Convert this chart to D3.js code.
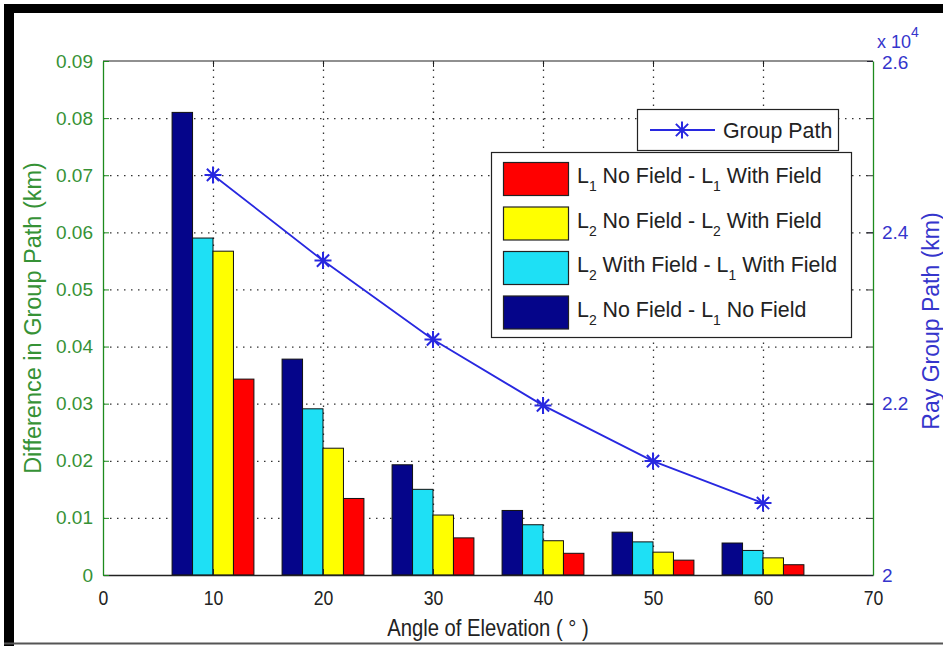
<!DOCTYPE html>
<html>
<head>
<meta charset="utf-8">
<script src="https://cdn.jsdelivr.net/npm/d3@7"></script>
<style>
  body { margin: 0; background: #fff; }
  svg text { font-family: "Liberation Sans", Arial, sans-serif; }
</style>
</head>
<body>
<svg id="chart" width="943" height="646"></svg>
<script>
// Elevation angles (degrees) at which each group of bars is drawn
const angles = [10, 20, 30, 40, 50, 60];

// Differences in group path (km), one array per comparison
const l2NoMinusL1No     = [0.0810, 0.0378, 0.0193, 0.0113, 0.0075, 0.0056];
const l2WithMinusL1With = [0.0590, 0.0291, 0.0150, 0.0088, 0.0058, 0.0043];
const l2NoMinusL2With   = [0.0567, 0.0222, 0.0105, 0.0060, 0.0040, 0.0030];
const l1NoMinusL1With   = [0.0343, 0.0134, 0.0065, 0.0038, 0.0026, 0.0018];

// Ray group path (km), right-hand axis
const groupPath = [24670, 23670, 22750, 21980, 21330, 20840];

// Tick values
const xTicks = [0, 10, 20, 30, 40, 50, 60, 70];
const leftTicks = [0, 0.01, 0.02, 0.03, 0.04, 0.05, 0.06, 0.07, 0.08, 0.09];
const rightTicks = [20000, 22000, 24000, 26000];

// Legend labels: [text, subscript] pieces
const seriesLabels = {
  l1NoMinusL1With:   [["L"], ["1", true], [" No Field - L"], ["1", true], [" With Field"]],
  l2NoMinusL2With:   [["L"], ["2", true], [" No Field - L"], ["2", true], [" With Field"]],
  l2WithMinusL1With: [["L"], ["2", true], [" With Field - L"], ["1", true], [" With Field"]],
  l2NoMinusL1No:     [["L"], ["2", true], [" No Field - L"], ["1", true], [" No Field"]]
};

const GREEN = "#369236", GREEN_LINE = "#1d8a1d", BLUE = "#3535cc", LINE_BLUE = "#2828e0";

// bars drawn left to right within each group
const barSeries = [
  { key: "l2NoMinusL1No",     values: l2NoMinusL1No,     color: "#05058a" },
  { key: "l2WithMinusL1With", values: l2WithMinusL1With, color: "#1ee0f5" },
  { key: "l2NoMinusL2With",   values: l2NoMinusL2With,   color: "#ffff00" },
  { key: "l1NoMinusL1With",   values: l1NoMinusL1With,   color: "#ff0000" }
];
// legend order
const legendOrder = ["l1NoMinusL1With", "l2NoMinusL2With", "l2WithMinusL1With", "l2NoMinusL1No"];

const svg = d3.select("#chart");
const box = { left: 103, right: 873, top: 61, bottom: 575 };

const x = d3.scaleLinear().domain([0, 70]).range([box.left, box.right]);
const yL = d3.scaleLinear().domain([0, 0.09]).range([box.bottom, box.top]);
const yR = d3.scaleLinear().domain([20000, 26000]).range([box.bottom, box.top]);

// page frame
svg.append("rect").attr("x", 0).attr("y", 0).attr("width", 943).attr("height", 646).attr("fill", "#fff");
svg.append("rect").attr("x", 4).attr("y", 4).attr("width", 939).attr("height", 9).attr("fill", "#000");
svg.append("rect").attr("x", 4).attr("y", 4).attr("width", 10).attr("height", 642).attr("fill", "#000");
svg.append("line").attr("x1", 4).attr("x2", 943).attr("y1", 643.5).attr("y2", 643.5)
  .attr("stroke", "#555").attr("stroke-width", 2);

// dotted grid
const gridStyle = g => {
  g.select(".domain").remove();
  g.selectAll(".tick line").attr("stroke", "#333").attr("stroke-width", 1.3)
    .attr("stroke-dasharray", "1.5,5.5");
  g.selectAll(".tick text").remove();
};
svg.append("g").attr("transform", `translate(0,${box.bottom})`)
  .call(d3.axisBottom(x).tickValues(xTicks.slice(1, -1)).tickSize(-(box.bottom - box.top)).tickFormat(""))
  .call(gridStyle);
svg.append("g").attr("transform", `translate(${box.left},0)`)
  .call(d3.axisLeft(yL).tickValues(leftTicks.slice(1, -1)).tickSize(-(box.right - box.left)).tickFormat(""))
  .call(gridStyle);

// grouped bars
const barW = 1.86; // in x units
barSeries.forEach((s, i) => {
  svg.append("g").selectAll("rect")
    .data(angles.map((a, j) => ({ a, v: s.values[j] })))
    .join("rect")
    .attr("x", d => x(d.a + (i - 2) * barW))
    .attr("width", d => x(d.a + (i - 1) * barW) - x(d.a + (i - 2) * barW))
    .attr("y", d => yL(d.v))
    .attr("height", d => yL(0) - yL(d.v))
    .attr("fill", s.color)
    .attr("stroke", "#111")
    .attr("stroke-width", 1);
});

// axes box
svg.append("line").attr("x1", box.left).attr("x2", box.right).attr("y1", box.top).attr("y2", box.top)
  .attr("stroke", "#222").attr("stroke-width", 1.2);

const xAxis = svg.append("g").attr("transform", `translate(0,${box.bottom})`)
  .call(d3.axisBottom(x).tickValues(xTicks).tickSizeInner(-6).tickSizeOuter(0).tickPadding(15));
xAxis.select(".domain").attr("stroke", "#222").attr("stroke-width", 1.4);
xAxis.selectAll(".tick line").attr("stroke", "#222");
xAxis.selectAll(".tick text").attr("font-size", 21).attr("fill", "#222")
  .attr("transform", "scale(0.84,1)");

const xTop = svg.append("g").attr("transform", `translate(0,${box.top})`)
  .call(d3.axisTop(x).tickValues(xTicks.slice(1, -1)).tickSizeInner(-6).tickSizeOuter(0).tickFormat(""));
xTop.select(".domain").remove();
xTop.selectAll(".tick line").attr("stroke", "#222");

const yLeft = svg.append("g").attr("transform", `translate(${box.left},0)`)
  .call(d3.axisLeft(yL).tickValues(leftTicks).tickSizeInner(-6).tickSizeOuter(0).tickPadding(10)
    .tickFormat(d => d === 0 ? "0" : d3.format(".2f")(d)));
yLeft.select(".domain").attr("stroke", GREEN_LINE).attr("stroke-width", 1.3);
yLeft.selectAll(".tick line").attr("stroke", GREEN_LINE);
yLeft.selectAll(".tick text").attr("font-size", 19).attr("fill", GREEN);

// left-axis ticks mirrored on the right edge
const yLeftMirror = svg.append("g").attr("transform", `translate(${box.right},0)`)
  .call(d3.axisRight(yL).tickValues(leftTicks.slice(1, -1)).tickSizeInner(-6).tickSizeOuter(0).tickFormat(""));
yLeftMirror.select(".domain").remove();
yLeftMirror.selectAll(".tick line").attr("stroke", "#333");

const yRight = svg.append("g").attr("transform", `translate(${box.right},0)`)
  .call(d3.axisRight(yR).tickValues(rightTicks).tickSizeInner(-6).tickSizeOuter(0).tickPadding(9)
    .tickFormat(d => d3.format("~g")(d / 1e4)));
yRight.select(".domain").attr("stroke", GREEN_LINE).attr("stroke-width", 1.3);
yRight.selectAll(".tick line").attr("stroke", "#223");
yRight.selectAll(".tick text").attr("font-size", 19).attr("fill", BLUE);
// top label nudged down slightly, clear of the multiplier
yRight.selectAll(".tick").filter(d => d === 26000).select("text").attr("dy", "0.42em");

// multiplier
const mult = svg.append("text").attr("x", 877).attr("y", 48).attr("font-size", 18).attr("fill", BLUE);
mult.append("tspan").text("x 10");
mult.append("tspan").attr("dy", -11).attr("font-size", 14).text("4");

// group path line with asterisk markers
const starPath = r => {
  const d = r * 0.72;
  return `M${-r},0L${r},0M0,${-r}L0,${r}M${-d},${-d}L${d},${d}M${-d},${d}L${d},${-d}`;
};
svg.append("path")
  .datum(angles.map((a, i) => [a, groupPath[i]]))
  .attr("fill", "none").attr("stroke", LINE_BLUE).attr("stroke-width", 1.8)
  .attr("d", d3.line().x(d => x(d[0])).y(d => yR(d[1])));
svg.append("g").selectAll("path")
  .data(angles.map((a, i) => [a, groupPath[i]]))
  .join("path")
  .attr("transform", d => `translate(${x(d[0])},${yR(d[1])})`)
  .attr("d", starPath(8.5))
  .attr("stroke", LINE_BLUE).attr("stroke-width", 2).attr("fill", "none");

// axis titles
svg.append("text").attr("transform", "translate(488,636) scale(0.88,1)")
  .attr("text-anchor", "middle").attr("font-size", 23).attr("fill", "#222")
  .text("Angle of Elevation ( ° )");
svg.append("text").attr("transform", "translate(41,318) rotate(-90)")
  .attr("text-anchor", "middle").attr("font-size", 23.5).attr("fill", GREEN)
  .text("Difference in Group Path (km)");
svg.append("text").attr("transform", "translate(939,321) rotate(-90)")
  .attr("text-anchor", "middle").attr("font-size", 23).attr("fill", BLUE)
  .text("Ray Group Path (km)");

// legend: line series
const lg1 = svg.append("g");
lg1.append("rect").attr("x", 637.5).attr("y", 109.5).attr("width", 201).attr("height", 41)
  .attr("fill", "#fff").attr("stroke", "#222").attr("stroke-width", 1.2);
lg1.append("line").attr("x1", 650).attr("x2", 715).attr("y1", 130).attr("y2", 130)
  .attr("stroke", LINE_BLUE).attr("stroke-width", 2);
lg1.append("path").attr("transform", "translate(682,130)").attr("d", starPath(8.5))
  .attr("stroke", LINE_BLUE).attr("stroke-width", 2).attr("fill", "none");
lg1.append("text").attr("transform", "translate(723,138) scale(0.93,1)")
  .attr("font-size", 23).attr("fill", "#222").text("Group Path");

// legend: bar series
const lg2 = svg.append("g");
lg2.append("rect").attr("x", 491.5).attr("y", 152.5).attr("width", 360).attr("height", 185)
  .attr("fill", "#fff").attr("stroke", "#222").attr("stroke-width", 1.2);
legendOrder.forEach((key, i) => {
  const s = barSeries.find(b => b.key === key);
  const top = 162 + i * 44.5;
  lg2.append("rect").attr("x", 503.5).attr("y", top + 0.5).attr("width", 65).attr("height", 33)
    .attr("fill", s.color).attr("stroke", "#222").attr("stroke-width", 1.2);
  const t = lg2.append("text").attr("transform", `translate(577,${top + 21}) scale(0.93,1)`)
    .attr("font-size", 23).attr("fill", "#222");
  let shifted = false;
  seriesLabels[key].forEach(([str, sub]) => {
    const sp = t.append("tspan").text(str);
    if (sub) { sp.attr("font-size", 15).attr("dy", 8); shifted = true; }
    else if (shifted) { sp.attr("dy", -8); shifted = false; }
  });
});
</script>
</body>
</html>
